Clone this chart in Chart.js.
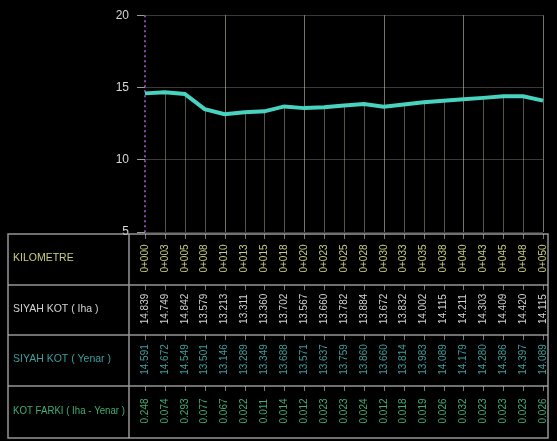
<!DOCTYPE html>
<html lang="tr">
<head>
  <meta charset="UTF-8">
  <title>Boy Kesit</title>
  <script src="https://cdn.jsdelivr.net/npm/chart.js"></script>
  <style>
    body {
      margin: 0;
      background: #000;
    }
    #wrap {
      width: 557px;
      height: 441px;
    }
  </style>
</head>
<body>
  <div id="wrap">
    <canvas id="profile" width="557" height="441"></canvas>
  </div>

  <script>
    // stations and elevations
    const kilometre = ['0+000', '0+003', '0+005', '0+008', '0+010', '0+013', '0+015', '0+018', '0+020', '0+023', '0+025',
                       '0+028', '0+030', '0+033', '0+035', '0+038', '0+040', '0+043', '0+045', '0+048', '0+050'];
    const siyahKotIha = [14.839, 14.749, 14.842, 13.579, 13.213, 13.311, 13.360, 13.702, 13.567, 13.660, 13.782,
                         13.884, 13.672, 13.832, 14.002, 14.115, 14.211, 14.303, 14.409, 14.420, 14.115];
    const siyahKotYenar = [14.591, 14.672, 14.549, 13.501, 13.146, 13.289, 13.349, 13.688, 13.571, 13.637, 13.759,
                           13.860, 13.660, 13.814, 13.983, 14.089, 14.179, 14.280, 14.386, 14.397, 14.089];
    const kotFarki = [0.248, 0.074, 0.293, 0.077, 0.067, 0.022, 0.011, 0.014, 0.012, 0.023, 0.023,
                      0.024, 0.012, 0.018, 0.019, 0.026, 0.032, 0.023, 0.023, 0.023, 0.026];
    const yTicks = [5, 10, 15, 20];

    const rowLabels = ['KILOMETRE', 'SIYAH KOT ( Iha )', 'SIYAH KOT ( Yenar )', 'KOT FARKI ( Iha - Yenar )'];
    const rowColors = ['#c9cf7a', '#d2d2d2', '#3c9e9c', '#3fae72'];

    // row borders of the table under the profile
    const rowEdges = [234, 285, 335, 386, 438];

    const profileExtras = {
      id: 'profileExtras',
      beforeDatasetsDraw(chart) {
        const ctx = chart.ctx;
        const xs = chart.scales.x;
        const ys = chart.scales.y;
        const area = chart.chartArea;
        ctx.save();
        // drop lines from the profile down to the base, tall ones every 4 stations
        for (let i = 1; i < kilometre.length; i++) {
          const x = Math.round(xs.getPixelForValue(i)) + 0.5;
          const tall = i % 4 === 0;
          const top = tall ? area.top : ys.getPixelForValue(siyahKotYenar[i]);
          ctx.strokeStyle = tall ? 'rgba(210,210,190,0.55)' : 'rgba(200,200,170,0.42)';
          ctx.lineWidth = 1;
          ctx.beginPath();
          ctx.moveTo(x, top);
          ctx.lineTo(x, area.bottom);
          ctx.stroke();
        }
        // purple dotted left axis
        const x0 = xs.getPixelForValue(0);
        ctx.strokeStyle = '#8a4aa8';
        ctx.lineWidth = 2;
        ctx.setLineDash([2, 3]);
        ctx.beginPath();
        ctx.moveTo(x0, area.top);
        ctx.lineTo(x0, area.bottom);
        ctx.stroke();
        ctx.setLineDash([]);
        ctx.restore();
      },
      afterDraw(chart) {
        const ctx = chart.ctx;
        const xs = chart.scales.x;
        const left = 8, divider = 129, right = 548;
        ctx.save();

        // table frame
        ctx.strokeStyle = 'rgba(175,175,175,0.85)';
        ctx.lineWidth = 1.5;
        ctx.strokeRect(left, rowEdges[0], right - left, rowEdges[4] - rowEdges[0]);
        ctx.beginPath();
        for (let r = 1; r < 4; r++) {
          ctx.moveTo(left, rowEdges[r]);
          ctx.lineTo(right, rowEdges[r]);
        }
        ctx.moveTo(divider, rowEdges[0]);
        ctx.lineTo(divider, rowEdges[4]);
        ctx.stroke();

        const rows = [
          kilometre,
          siyahKotIha.map(v => v.toFixed(3)),
          siyahKotYenar.map(v => v.toFixed(3)),
          kotFarki.map(v => v.toFixed(3))
        ];

        for (let r = 0; r < 4; r++) {
          const mid = (rowEdges[r] + rowEdges[r + 1]) / 2;
          // row title
          ctx.fillStyle = rowColors[r];
          ctx.font = '10.5px "Liberation Sans", Arial, sans-serif';
          ctx.textAlign = 'left';
          ctx.textBaseline = 'middle';
          ctx.fillText(rowLabels[r], 13, mid - 1, 112);

          // values, standing on their side
          for (let i = 0; i < rows[r].length; i++) {
            const x = xs.getPixelForValue(i);
            ctx.strokeStyle = 'rgba(200,200,200,0.6)';
            ctx.lineWidth = 1;
            ctx.beginPath();
            ctx.moveTo(Math.round(x) + 0.5, rowEdges[r]);
            ctx.lineTo(Math.round(x) + 0.5, rowEdges[r] + 5);
            ctx.stroke();

            ctx.save();
            ctx.translate(x, mid - 1);
            ctx.rotate(-Math.PI / 2);
            ctx.fillStyle = rowColors[r];
            ctx.font = '10px "Liberation Sans", Arial, sans-serif';
            ctx.textAlign = 'center';
            ctx.textBaseline = 'middle';
            ctx.fillText(rows[r][i], 0, 0);
            ctx.restore();
          }
        }
        ctx.restore();
      }
    };

    new Chart(document.getElementById('profile'), {
      type: 'line',
      data: {
        labels: kilometre,
        datasets: [{
          label: 'SIYAH KOT ( Yenar )',
          data: siyahKotYenar,
          borderColor: '#48d2c0',
          borderWidth: 4,
          pointRadius: 0,
          tension: 0
        }]
      },
      options: {
        responsive: false,
        animation: false,
        devicePixelRatio: 1,
        layout: { padding: { top: 15, right: 14, bottom: 209, left: 0 } },
        plugins: {
          legend: { display: false },
          tooltip: { enabled: false }
        },
        scales: {
          x: {
            type: 'category',
            display: false,
            offset: false
          },
          y: {
            min: 5,
            max: 20,
            afterBuildTicks: s => { s.ticks = yTicks.map(v => ({ value: v })); },
            afterFit: s => { s.width = 145; },
            ticks: {
              color: '#d6d6d6',
              font: { size: 12, family: '"Liberation Sans", Arial, sans-serif' },
              padding: 8
            },
            grid: {
              color: 'rgba(190,190,190,0.3)',
              tickColor: 'rgba(220,220,220,0.7)',
              tickLength: 8
            },
            border: { display: false }
          }
        }
      },
      plugins: [profileExtras]
    });
  </script>
</body>
</html>
